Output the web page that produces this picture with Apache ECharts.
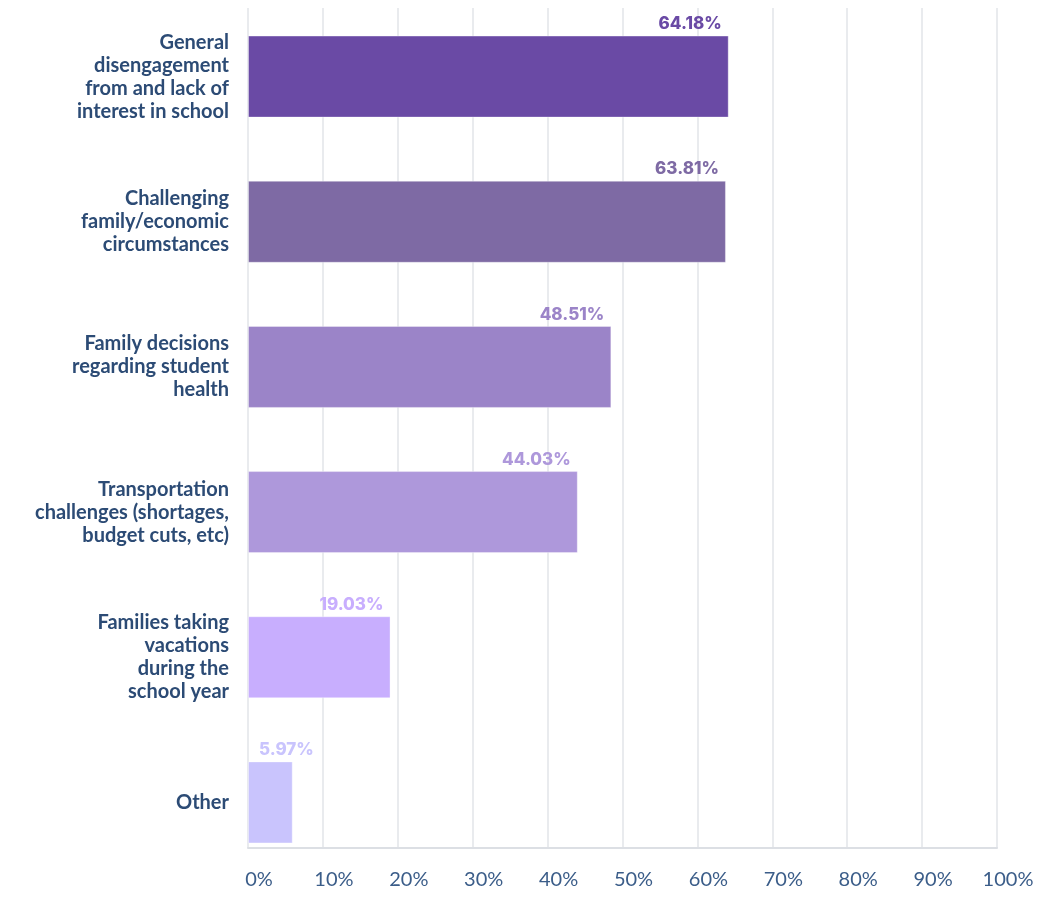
<!DOCTYPE html>
<html>
<head>
<meta charset="utf-8">
<script src="https://cdn.jsdelivr.net/npm/echarts@6/dist/echarts.min.js"></script>
<style>
  html, body { margin: 0; padding: 0; background: #fff; }
  #chart { width: 1049px; height: 907px; }
</style>
</head>
<body>
<div id="chart"></div>
<script>
// data
var categories = [
  'General\ndisengagement\nfrom and lack of\ninterest in school',
  'Challenging\nfamily/economic\ncircumstances',
  'Family decisions\nregarding student\nhealth',
  'Transportation\nchallenges (shortages,\nbudget cuts, etc)',
  'Families taking\nvacations\nduring the\nschool year',
  'Other'
];
var values = [64.18, 63.81, 48.51, 44.03, 19.03, 5.97];
var xTicks = [0, 10, 20, 30, 40, 50, 60, 70, 80, 90, 100];

var barColors = ['#6a4aa5', '#7e6aa4', '#9b84c8', '#ae98db', '#c8aefe', '#c9c4fd'];

var chart = echarts.init(document.getElementById('chart'));

var seriesData = values.map(function (v, i) {
  var item = {
    value: v,
    itemStyle: { color: barColors[i] },
    label: { color: barColors[i] }
  };
  // short bar: label sits past the bar's end
  if (v < 10) {
    item.label.position = [18, 0];
    item.label.align = 'left';
  }
  return item;
});

chart.setOption({
  animation: false,
  grid: [
    // grid for axis + gridlines
    { left: 248, right: 52, top: 8, bottom: 59 },
    // grid for bars
    { left: 248, right: 52, top: 4, height: 871 }
  ],
  xAxis: [
    {
      gridIndex: 0,
      type: 'value',
      min: xTicks[0],
      max: xTicks[xTicks.length - 1],
      interval: 10,
      axisLine: { show: true, lineStyle: { color: '#dcdfe4', width: 2 } },
      axisTick: { show: false },
      splitLine: { show: true, lineStyle: { color: '#e2e4e9', width: 1.5 } },
      axisLabel: {
        formatter: '{value}%',
        color: '#3b5d89',
        fontFamily: 'Lato',
        fontSize: 20,
        margin: 22,
        padding: [0, 0, 0, 22]
      }
    },
    {
      gridIndex: 1,
      type: 'value',
      min: 0,
      max: 100,
      show: false
    }
  ],
  yAxis: [
    {
      gridIndex: 0,
      type: 'value',
      show: false
    },
    {
      gridIndex: 1,
      type: 'category',
      inverse: true,
      data: categories,
      axisLine: { show: false },
      axisTick: { show: false },
      splitLine: { show: false },
      axisLabel: {
        color: '#2c4b75',
        fontFamily: 'Lato',
        fontWeight: 'bold',
        fontSize: 20,
        lineHeight: 23,
        margin: 19,
        align: 'right'
      }
    }
  ],
  series: [
    {
      type: 'bar',
      xAxisIndex: 1,
      yAxisIndex: 1,
      barWidth: 82,
      data: seriesData,
      itemStyle: { borderColor: 'rgba(255,255,255,0.35)', borderWidth: 1 },
      label: {
        show: true,
        position: ['100%', 0],
        align: 'right',
        verticalAlign: 'bottom',
        offset: [-7, -3],
        formatter: function (p) { return p.value.toFixed(2) + '%'; },
        fontFamily: 'Inter',
        fontWeight: 800,
        fontSize: 17
      }
    }
  ]
});
</script>
</body>
</html>
